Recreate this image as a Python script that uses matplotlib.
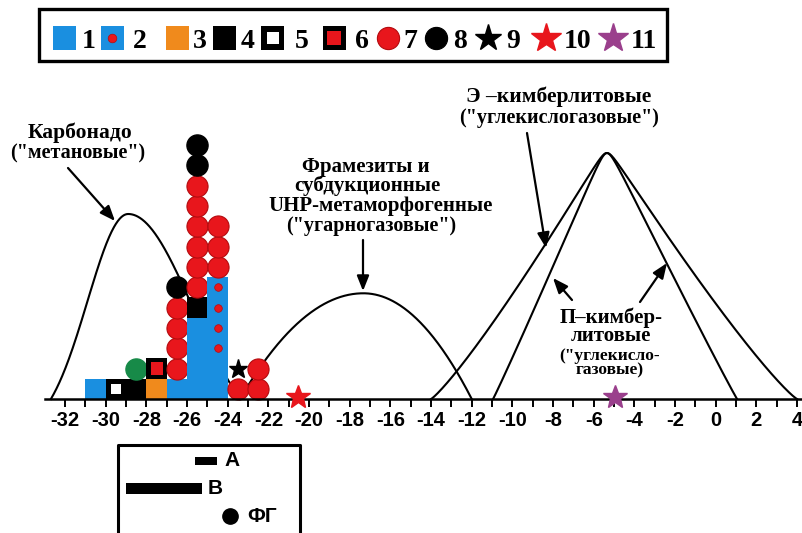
import numpy as np
import matplotlib
matplotlib.use('Agg')
import matplotlib.pyplot as plt
from matplotlib.patches import Rectangle

# ------------------------- DATA -------------------------
x_ticks = list(range(-32, 5))
x_tick_labels = [str(v) if v % 2 == 0 else '' for v in x_ticks]

# histogram columns: left edge (d13C, per mil) and stacked items from bottom
column_left = [-31, -30, -29, -28, -27, -26, -25, -24, -23]
column_stack = [
    ['1'],
    ['5'],
    ['4', 'G'],
    ['3', '6'],
    ['1', '7', '7', '7', '7', '8'],
    ['1', '1', '1', '1', '4', '7', '7', '7', '7', '7', '7', '8', '8'],
    ['1', '1', '2', '2', '2', '2', '7', '7', '7'],
    ['7', '9'],
    ['7', '7'],
]
star_x = [-20.55, -4.95]
star_kind = ['10', '11']

# schematic distribution fields: peak x, peak height, left end, right end
carbonado_peak, carbonado_h, carbonado_ends, carbonado_sigma = -28.9, 9.1, (-32.7, -23.4), (2.0, 3.2)
framesite_peak, framesite_h, framesite_ends = -17.33, 5.2, (-23.4, -12.0)
kimbE_peak, kimbE_h, kimbE_ends, kimbE_pow = -5.35, 12.1, (-14.0, 4.0), 1.15
kimbP_peak, kimbP_h, kimbP_ends, kimbP_pow = -5.35, 12.1, (-10.95, 1.05), 1.03

legend_labels = ['1', '2', '3', '4', '5', '6', '7', '8', '9', '10', '11']

# ------------------------- STYLE -------------------------
BLUE = '#1a8fe0'
RED = '#e8161c'
RED_EDGE = '#b40a0e'
ORANGE = '#f08a1c'
GREEN = '#178a48'
PURPLE = '#9a3f8c'

W_PX, H_PX = 803, 533
PX = 20.33      # pixels per unit
X0 = 715.7      # pixel x of 0
Y0 = 399.0      # pixel y of baseline


def dx(px):
    return (px - X0) / PX


def dy(py):
    return (Y0 - py) / PX


fig = plt.figure(figsize=(W_PX / 100, H_PX / 100), dpi=100)
ax = fig.add_axes([0, 0, 1, 1])
ax.set_xlim(dx(0), dx(W_PX))
ax.set_ylim(dy(H_PX), dy(0))
for s in ['top', 'right', 'left']:
    ax.spines[s].set_visible(False)
ax.spines['bottom'].set_position(('data', 0))
ax.spines['bottom'].set_bounds(dx(45), dx(W_PX))
ax.spines['bottom'].set_linewidth(1.8)
ax.spines['bottom'].set_zorder(4)
ax.set_yticks([])
ax.set_xticks(x_ticks)
ax.set_xticklabels(x_tick_labels)
ax.tick_params(axis='x', direction='out', length=6, width=1.4, pad=2.5, labelsize=14.5)
for lbl in ax.get_xticklabels():
    lbl.set_fontweight('bold')
    lbl.set_family('Liberation Sans')

SERIF = 'Liberation Serif'
SANS = 'Liberation Sans'

# ------------------------- CURVES -------------------------
def trunc_gauss(d, W, s):
    e0 = np.exp(-W ** 2 / (2 * s ** 2))
    return (np.exp(-d ** 2 / (2 * s ** 2)) - e0) / (1 - e0)


xs = np.linspace(carbonado_ends[0], carbonado_ends[1], 400)
d = xs - carbonado_peak
ys = np.where(d < 0,
              trunc_gauss(d, carbonado_peak - carbonado_ends[0], carbonado_sigma[0]),
              trunc_gauss(d, carbonado_ends[1] - carbonado_peak, carbonado_sigma[1])) * carbonado_h
ax.plot(xs, ys, color='black', lw=1.5, zorder=1)

xs = np.linspace(framesite_ends[0], framesite_ends[1], 400)
d = xs - framesite_peak
W = np.where(d < 0, framesite_peak - framesite_ends[0], framesite_ends[1] - framesite_peak)
ys = framesite_h * (1 - (d / W) ** 2)
ax.plot(xs, ys, color='black', lw=1.5, zorder=1)


def kimb(peak, h, ends, p, r=0.25):
    xs = np.linspace(ends[0], ends[1], 500)
    d = xs - peak
    W = np.where(d < 0, peak - ends[0], ends[1] - peak)
    ad = np.sqrt(d ** 2 + r ** 2) - r
    adW = np.sqrt(W ** 2 + r ** 2) - r
    t = np.clip(1 - ad / adW, 0, None)
    return xs, h * t ** p


for args in [(kimbE_peak, kimbE_h, kimbE_ends, kimbE_pow), (kimbP_peak, kimbP_h, kimbP_ends, kimbP_pow)]:
    xs, ys = kimb(*args)
    ax.plot(xs, ys, color='black', lw=1.5, zorder=1)

# ------------------------- HISTOGRAM -------------------------
CIRC_MS = 15.2


def draw_item(code, x, y, size=1.0, zo=3):
    """x, y: lower-left corner of a unit cell; size: cell size in units."""
    cx, cy = x + size / 2, y + size / 2
    if code == '1':
        ax.add_patch(Rectangle((x, y), size, size, facecolor=BLUE, edgecolor='none', zorder=zo))
    elif code == '2':
        ax.add_patch(Rectangle((x, y), size, size, facecolor=BLUE, edgecolor='none', zorder=zo))
        ax.plot(cx, cy, 'o', ms=5.5 * size, color=RED, mec=RED_EDGE, mew=0.5, zorder=zo + 0.1)
    elif code == '3':
        ax.add_patch(Rectangle((x, y), size, size, facecolor=ORANGE, edgecolor='none', zorder=zo))
    elif code == '4':
        ax.add_patch(Rectangle((x, y), size, size, facecolor='black', edgecolor='none', zorder=zo))
    elif code == '5':
        ax.add_patch(Rectangle((x, y), size, size, facecolor='black', edgecolor='none', zorder=zo))
        ax.add_patch(Rectangle((cx - 0.26 * size, cy - 0.26 * size), 0.52 * size, 0.52 * size,
                               facecolor='white', edgecolor='none', zorder=zo + 0.1))
    elif code == '6':
        ax.add_patch(Rectangle((x, y), size, size, facecolor='black', edgecolor='none', zorder=zo))
        ax.add_patch(Rectangle((cx - 0.3 * size, cy - 0.3 * size), 0.6 * size, 0.6 * size,
                               facecolor=RED, edgecolor='none', zorder=zo + 0.1))
    elif code == '7':
        ax.plot(cx, cy, 'o', ms=CIRC_MS * size, color=RED, mec=RED_EDGE, mew=0.8, zorder=zo)
    elif code == '8':
        ax.plot(cx, cy, 'o', ms=CIRC_MS * size, color='black', zorder=zo)
    elif code == 'G':
        ax.plot(cx, cy, 'o', ms=CIRC_MS * size, color=GREEN, zorder=zo)
    elif code == '9':
        ax.plot(cx, cy, '*', ms=14 * size, color='black', zorder=zo)
    elif code == '10':
        ax.plot(cx, cy, '*', ms=18 * size, color=RED, mec=RED, zorder=zo + 2)
    elif code == '11':
        ax.plot(cx, cy, '*', ms=18 * size, color=PURPLE, mec=PURPLE, zorder=zo + 2)


for xl, stack in zip(column_left, column_stack):
    for row, code in enumerate(stack):
        draw_item(code, xl, row, zo=3 + row * 0.01)

for sx, kind in zip(star_x, star_kind):
    draw_item(kind, sx - 0.5, 0.08 - 0.5, zo=5)

# ------------------------- TOP LEGEND -------------------------
ax.add_patch(Rectangle((dx(39), dy(61)), (667 - 39) / PX, (61 - 9) / PX, facecolor='white',
                       edgecolor='black', lw=2.4, zorder=6))
leg_sym_x = [64, 112, 177, 224, 273, 334, 388, 436, 488, 546, 613]
leg_lab_x = [89, 140, 200, 248, 302, 362, 410, 460, 513, 578, 644]
leg_y = 38
LS = 23 / PX
for code, sxp, lxp in zip(legend_labels, leg_sym_x, leg_lab_x):
    cx, cy = dx(sxp), dy(leg_y)
    if code in ['7', '8']:
        ax.plot(cx, cy, 'o', ms=16, color=RED if code == '7' else 'black',
                mec=RED_EDGE if code == '7' else 'black', mew=0.8, zorder=7)
    elif code == '9':
        ax.plot(cx, cy, '*', ms=20, color='black', zorder=7)
    elif code == '10':
        ax.plot(cx, cy, '*', ms=22, color=RED, zorder=7)
    elif code == '11':
        ax.plot(cx, cy, '*', ms=22, color=PURPLE, zorder=7)
    else:
        draw_item(code, cx - LS / 2, cy - LS / 2, size=LS, zo=7)
    ax.text(dx(lxp), cy, code, ha='center', va='center_baseline', fontsize=20,
            fontweight='bold', family=SERIF, zorder=8)

# ------------------------- BOTTOM LEGEND -------------------------
ax.plot([dx(118), dx(118), dx(300), dx(300)], [dy(545), dy(445), dy(445), dy(545)],
        color='black', lw=2.2, zorder=6, clip_on=False)
ax.add_patch(Rectangle((dx(195), dy(464.5)), 21.7 / PX, 7.5 / PX, facecolor='black', edgecolor='none', zorder=7))
ax.add_patch(Rectangle((dx(126), dy(493.5)), 75.7 / PX, 10.5 / PX, facecolor='black', edgecolor='none', zorder=7))
ax.plot(dx(230), dy(516), 'o', ms=11, color='black', zorder=7)
ax.text(dx(224), dy(461), 'А', ha='left', va='center', fontsize=15, fontweight='bold', family=SANS)
ax.text(dx(208), dy(488), 'В', ha='left', va='center', fontsize=15, fontweight='bold', family=SANS)
ax.text(dx(247), dy(516), 'ФГ', ha='left', va='center', fontsize=15, fontweight='bold', family=SANS)

# ------------------------- ANNOTATIONS -------------------------
def label(px, py, s, fs, ls=1.2):
    ax.text(dx(px), dy(py), s, ha='center', va='center', fontsize=fs, fontweight='bold', family=SERIF,
            zorder=8, linespacing=ls, multialignment='center')


label(80, 133, 'Карбонадо', 15.5)
label(78, 153, '("метановые")', 14.5)

label(366, 167, 'Фрамезиты и', 15)
label(367, 186, 'субдукционные', 15)
label(381, 206, 'UHP-метаморфогенные', 15)
label(371, 226, '("угарногазовые")', 14.5)

label(559, 97, 'Э –кимберлитовые', 15.5)
label(559, 118, '("углекислогазовые")', 14.5)

label(611, 327, 'П–кимбер-\nлитовые', 15, ls=0.85)
label(610, 363, '("углекисло-\nгазовые)', 12.5, ls=0.9)

arrows = [((68, 168), (115, 221)),
          ((363, 240), (363, 291)),
          ((527, 133), (546, 248)),
          ((572, 300), (553, 278)),
          ((640, 302), (667, 263))]
for (sx0, sy0), (tx, ty) in arrows:
    ax.annotate('', xy=(dx(tx), dy(ty)), xytext=(dx(sx0), dy(sy0)),
                arrowprops=dict(arrowstyle='-|>,head_length=0.7,head_width=0.28', lw=1.6,
                                color='black', mutation_scale=13, shrinkA=0, shrinkB=0),
                zorder=8)

fig.savefig('out.png', dpi=100)
